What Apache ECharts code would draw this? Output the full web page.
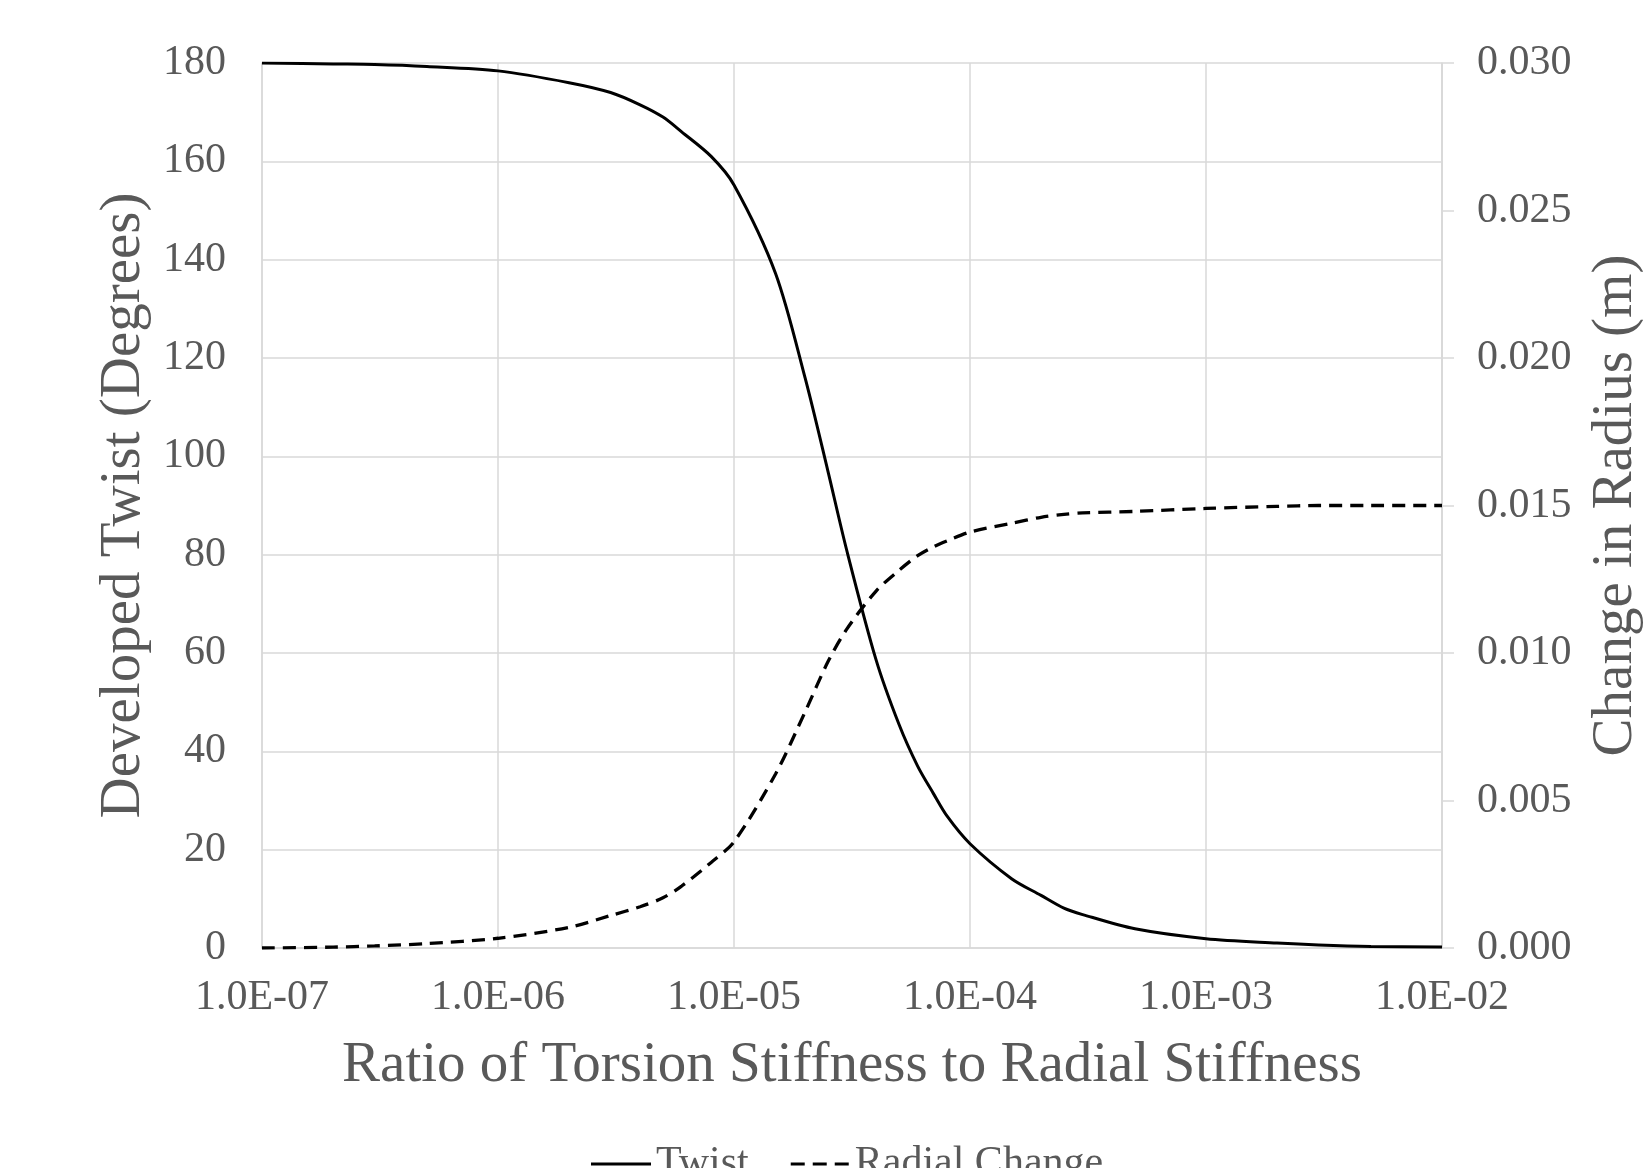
<!DOCTYPE html>
<html>
<head>
<meta charset="utf-8">
<script src="https://cdn.jsdelivr.net/npm/echarts@6/dist/echarts.min.js"></script>
<style>html,body{margin:0;padding:0;background:#fff;}#chart{width:1649px;height:1168px;}</style>
</head>
<body>
<div id="chart"></div>
<script>
const ratios = [1e-7, 2e-7, 3e-7, 5e-7, 1e-6, 2e-6, 3e-6, 4e-6, 5e-6, 6e-6, 8e-6, 1e-5, 1.5e-5, 2e-5, 2.5e-5, 3e-5, 4e-5, 5e-5, 6e-5, 7e-5, 8e-5, 1e-4, 1.5e-4, 2e-4, 2.5e-4, 3e-4, 5e-4, 1e-3, 2e-3, 3e-3, 5e-3, 1e-2];
const twist = [180, 179.8, 179.7, 179.3, 178.4, 176, 174, 171.5, 169, 166, 161, 155.2, 137.2, 116, 97, 81, 58.6, 45.5, 37, 31.4, 26.8, 21.2, 14.1, 10.7, 8.1, 6.8, 3.9, 1.9, 1.0, 0.6, 0.3, 0.2];
const radial = [0.0, 0.00003, 0.00007, 0.00015, 0.00033, 0.0007, 0.0011, 0.0014, 0.0017, 0.0021, 0.0029, 0.0036, 0.0059, 0.0080, 0.0097, 0.0108, 0.0121, 0.0128, 0.0133, 0.0136, 0.0138, 0.0141, 0.0144, 0.0146, 0.0147, 0.01475, 0.0148, 0.0149, 0.01497, 0.0150, 0.0150, 0.0150];
const leftTicks = {min: 0, max: 180, interval: 20};
const rightTicks = {min: 0, max: 0.03, interval: 0.005};
const seriesNames = ['Twist', 'Radial Change'];

const FONT = 'Liberation Serif';
const GRAY = '#595959';
const GRID = '#d9d9d9';

const chart = echarts.init(document.getElementById('chart'));
chart.setOption({
  animation: false,
  backgroundColor: '#fff',
  textStyle: {fontFamily: FONT, color: GRAY},
  grid: {left: 262, right: 207, top: 63, bottom: 220, containLabel: false, outerBoundsMode: 'none'},
  legend: {
    left: 586, top: 1138,
    itemWidth: 60, itemHeight: 3, itemGap: 42,
    textStyle: {fontFamily: FONT, fontSize: 42, color: GRAY},
    data: [
      {name: seriesNames[0], icon: 'path://M0,0h60v3h-60z'},
      {name: seriesNames[1], icon: 'path://M0,0h14v3h-14zM22,0h14v3h-14zM44,0h14v3h-14z'}
    ]
  },
  xAxis: {
    type: 'log', logBase: 10, min: 1e-7, max: 1e-2,
    name: 'Ratio of Torsion Stiffness to Radial Stiffness',
    nameLocation: 'middle', nameGap: 90,
    nameTextStyle: {fontFamily: FONT, fontSize: 57, color: GRAY},
    axisLine: {show: true, lineStyle: {color: GRID, width: 1.5}},
    axisTick: {show: false},
    splitLine: {show: true, lineStyle: {color: GRID, width: 1.5}},
    axisLabel: {
      margin: 29, fontFamily: FONT, fontSize: 42, color: GRAY,
      formatter: function (v) {
        const e = Math.round(Math.log10(v));
        const s = Math.abs(e) < 10 ? '0' + Math.abs(e) : '' + Math.abs(e);
        return '1.0E' + (e < 0 ? '-' : '+') + s;
      }
    }
  },
  yAxis: [{
    type: 'value', min: leftTicks.min, max: leftTicks.max, interval: leftTicks.interval,
    name: 'Developed Twist (Degrees)', nameLocation: 'middle', nameGap: 97,
    nameTextStyle: {fontFamily: FONT, fontSize: 57, color: GRAY},
    axisLine: {show: true, lineStyle: {color: GRID, width: 1.5}},
    axisTick: {show: false},
    splitLine: {show: true, lineStyle: {color: GRID, width: 1.5}},
    axisLabel: {margin: 36, fontFamily: FONT, fontSize: 42, color: GRAY}
  }, {
    type: 'value', position: 'right', min: rightTicks.min, max: rightTicks.max, interval: rightTicks.interval,
    name: 'Change in Radius (m)', nameLocation: 'middle', nameGap: 146,
    nameTextStyle: {fontFamily: FONT, fontSize: 57, color: GRAY},
    axisLine: {show: true, lineStyle: {color: GRID, width: 1.5}},
    axisTick: {show: true, length: 12, inside: false, lineStyle: {color: GRID, width: 1.5}},
    splitLine: {show: false},
    axisLabel: {margin: 35, fontFamily: FONT, fontSize: 42, color: GRAY,
      formatter: function (v) { return v.toFixed(3); }}
  }],
  series: [{
    name: seriesNames[0], type: 'line', yAxisIndex: 0, symbol: 'none', smooth: 0.3,
    lineStyle: {color: '#000', width: 3, type: 'solid'},
    itemStyle: {color: '#000'},
    data: ratios.map((x, i) => [x, twist[i]])
  }, {
    name: seriesNames[1], type: 'line', yAxisIndex: 1, symbol: 'none', smooth: 0.3,
    lineStyle: {color: '#000', width: 3.3, type: [13, 8]},
    itemStyle: {color: '#000'},
    data: ratios.map((x, i) => [x, radial[i]])
  }]
});
</script>
</body>
</html>
